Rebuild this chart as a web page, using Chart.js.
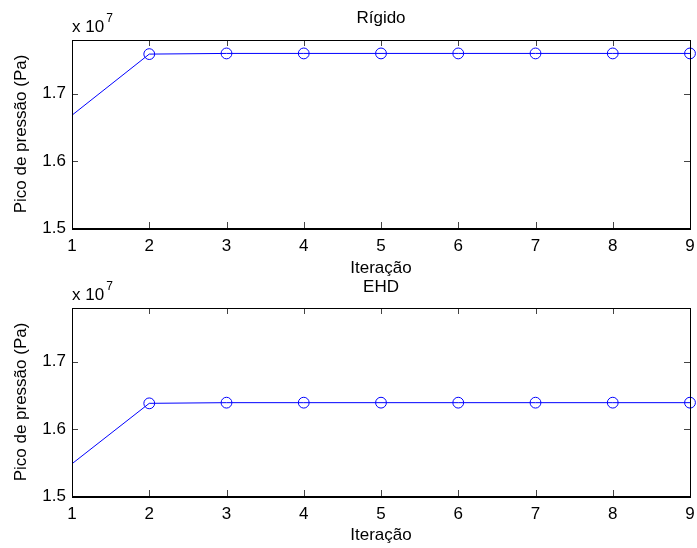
<!DOCTYPE html>
<html>
<head>
<meta charset="utf-8">
<script src="https://cdn.jsdelivr.net/npm/chart.js@4.4.1/dist/chart.umd.min.js"></script>
<style>
html,body{margin:0;padding:0;background:#fff;}
#wrap{position:relative;width:697px;height:548px;overflow:hidden;}
#c1{position:absolute;left:0;top:0;}
#c2{position:absolute;left:0;top:266px;}
</style>
</head>
<body>
<div id="wrap">
<canvas id="c1" width="697" height="282"></canvas>
<canvas id="c2" width="697" height="282"></canvas>
</div>
<script>
// Data (pressure peak in units of 1e7 Pa)
const iterations = [1, 2, 3, 4, 5, 6, 7, 8, 9];
const rigidoPeak = [1.668, 1.759, 1.760, 1.760, 1.760, 1.760, 1.760, 1.760, 1.760];
const ehdPeak = [1.548, 1.638, 1.639, 1.639, 1.639, 1.639, 1.639, 1.639, 1.639];
const yTicks = [1.5, 1.6, 1.7];
const xTicks = [1, 2, 3, 4, 5, 6, 7, 8, 9];
const titles = ['Rígido', 'EHD'];
const xLabel = 'Iteração';
const yLabel = 'Pico de pressão (Pa)';
const yMin = 1.5, yMax = 1.78;

const FONT = '"Liberation Sans", Arial, Helvetica, sans-serif';
const FS = 17;
Chart.defaults.font.family = FONT;
Chart.defaults.font.size = FS;
Chart.defaults.color = '#000';

const boxPlugin = {
  id: 'matlabBox',
  afterDraw(chart) {
    const {ctx, chartArea: a, scales: {x, y}} = chart;
    ctx.save();
    // inward ticks
    ctx.strokeStyle = '#444';
    ctx.lineWidth = 1;
    const tl = 6;
    ctx.beginPath();
    xTicks.forEach(v => {
      const px = Math.round(x.getPixelForValue(v)) + 0.5;
      ctx.moveTo(px, a.bottom); ctx.lineTo(px, a.bottom - tl);
      ctx.moveTo(px, a.top); ctx.lineTo(px, a.top + tl);
    });
    yTicks.forEach(v => {
      const py = Math.round(y.getPixelForValue(v)) + 0.5;
      ctx.moveTo(a.left, py); ctx.lineTo(a.left + tl, py);
      ctx.moveTo(a.right, py); ctx.lineTo(a.right - tl, py);
    });
    ctx.stroke();
    // box
    ctx.strokeStyle = '#000';
    ctx.lineWidth = 1;
    ctx.strokeRect(Math.round(a.left) + 0.5, Math.round(a.top) + 0.5,
                   Math.round(a.right - a.left), Math.round(a.bottom - a.top));
    ctx.lineWidth = 2;
    ctx.beginPath();
    ctx.moveTo(a.left, Math.round(a.bottom) + 1);
    ctx.lineTo(a.right + 1, Math.round(a.bottom) + 1);
    ctx.stroke();
    // exponent label
    ctx.fillStyle = '#000';
    ctx.textBaseline = 'alphabetic';
    ctx.textAlign = 'left';
    ctx.font = FS + 'px ' + FONT;
    const base = a.top - 8;
    ctx.fillText('x 10', a.left, base);
    const w = ctx.measureText('x 10').width;
    ctx.font = '12px ' + FONT;
    ctx.fillText('7', a.left + w + 2, base - 10);
    ctx.restore();
  }
};

function makeChart(id, values, title, cfg) {
  const data = iterations.map((xv, i) => ({x: xv, y: values[i]}));
  return new Chart(document.getElementById(id), {
    type: 'line',
    data: {
      datasets: [{
        data: data,
        borderColor: '#0000ff',
        borderWidth: 1,
        backgroundColor: 'rgba(0,0,0,0)',
        pointStyle: 'circle',
        pointRadius: values.map((v, i) => i === 0 ? 0 : 5.4),
        pointBorderColor: '#0000ff',
        pointBackgroundColor: 'rgba(0,0,0,0)',
        pointBorderWidth: 1,
        tension: 0,
        clip: false
      }]
    },
    options: {
      responsive: false,
      animation: false,
      devicePixelRatio: 1,
      layout: {padding: {left: 0, right: 7, top: 0, bottom: 0}},
      plugins: {
        legend: {display: false},
        tooltip: {enabled: false},
        title: {display: false}
      },
      scales: {
        x: {
          type: 'linear',
          min: 1, max: 9,
          afterBuildTicks: s => { s.ticks = xTicks.map(v => ({value: v})); },
          ticks: {padding: 8, font: {size: FS}, color: '#000'},
          grid: {display: false, drawTicks: false},
          border: {display: false},
          title: {display: true, text: xLabel, font: {size: FS}, color: '#000',
                  padding: {top: 0, bottom: cfg.xTitleBottom}},
          afterFit: s => { s.height = cfg.xHeight; s.paddingLeft = 0; s.paddingRight = 0; }
        },
        xTop: {
          type: 'linear',
          axis: 'x',
          position: 'top',
          min: 1, max: 9,
          ticks: {display: false},
          grid: {display: false, drawTicks: false},
          border: {display: false},
          title: {display: true, text: title, font: {size: FS, weight: 'normal'}, color: '#000',
                  padding: {top: cfg.titleTop, bottom: 0}},
          afterFit: s => { s.height = cfg.topHeight; s.paddingLeft = 0; s.paddingRight = 0; }
        },
        y: {
          type: 'linear',
          min: yMin, max: yMax,
          afterBuildTicks: s => { s.ticks = yTicks.map(v => ({value: v})); },
          ticks: {padding: 6, font: {size: FS}, color: '#000',
                  callback: v => v.toFixed(1)},
          grid: {display: false, drawTicks: false},
          border: {display: false},
          title: {display: true, text: yLabel, font: {size: FS}, color: '#000',
                  padding: {top: 10.8, bottom: 0}},
          afterFit: s => { s.width = 72; s.paddingTop = 0; s.paddingBottom = 0; }
        }
      }
    },
    plugins: [boxPlugin]
  });
}

makeChart('c1', rigidoPeak, titles[0], {titleTop: 8.3, topHeight: 40, xHeight: 54, xTitleBottom: 3.3});
makeChart('c2', ehdPeak, titles[1], {titleTop: 10.8, topHeight: 42, xHeight: 52, xTitleBottom: 2.3});
</script>
</body>
</html>
